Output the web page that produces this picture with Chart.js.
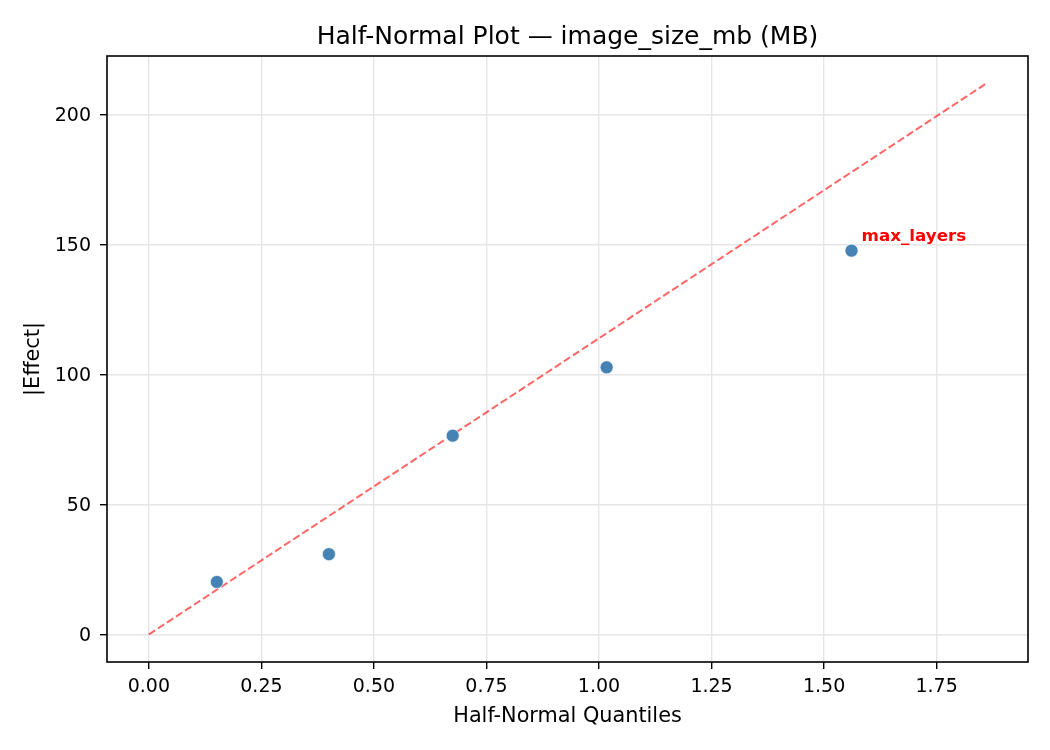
<!DOCTYPE html>
<html>
<head>
<meta charset="utf-8">
<title>Half-Normal Plot</title>
<script src="https://cdn.jsdelivr.net/npm/chart.js@4.4.1/dist/chart.umd.min.js"></script>
<style>
    html, body { margin: 0; padding: 0; background: #fff; }
    #wrap { width: 1050px; height: 750px; position: relative; }
</style>
</head>
<body>
<div id="wrap"><canvas id="halfNormalChart"></canvas></div>
<script>
// values
const quantiles = [0.151, 0.400, 0.675, 1.017, 1.561];
const effects = [20.2, 30.9, 76.5, 102.8, 147.7];
const pointLabels = ['', '', '', '', 'max_layers'];
const refLineX = [0, 1.86];
const refLineY = [0, 212];
const chartTitle = 'Half-Normal Plot \u2014 image_size_mb (MB)';

const FONT = "'DejaVu Sans', 'Liberation Sans', sans-serif";

// black frame round the plot area, like matplotlib spines
const framePlugin = {
    id: 'frame',
    afterDraw(chart) {
        const { ctx, chartArea: a } = chart;
        ctx.save();
        ctx.strokeStyle = '#000';
        ctx.lineWidth = 1.6;
        ctx.strokeRect(a.left, a.top, a.right - a.left, a.bottom - a.top);
        ctx.restore();
    }
};

// title centred over the plot area (not the whole canvas)
const axesTitlePlugin = {
    id: 'axesTitle',
    afterDraw(chart) {
        const { ctx, chartArea: a } = chart;
        ctx.save();
        ctx.font = "25px " + FONT;
        ctx.fillStyle = '#000';
        ctx.textAlign = 'center';
        ctx.textBaseline = 'alphabetic';
        ctx.fillText(chartTitle, (a.left + a.right) / 2, 44);
        ctx.restore();
    }
};

// text labels next to the named points
const pointLabelPlugin = {
    id: 'pointLabels',
    afterDatasetsDraw(chart) {
        const { ctx } = chart;
        const xs = chart.scales.x, ys = chart.scales.y;
        ctx.save();
        ctx.font = "bold 16.7px " + FONT;
        ctx.fillStyle = '#ff0000';
        ctx.textAlign = 'left';
        ctx.textBaseline = 'alphabetic';
        pointLabels.forEach((lbl, i) => {
            if (!lbl) return;
            const px = xs.getPixelForValue(quantiles[i]);
            const py = ys.getPixelForValue(effects[i]);
            ctx.fillText(lbl, px + 10, py - 10);
        });
        ctx.restore();
    }
};

const scatterData = quantiles.map((q, i) => ({ x: q, y: effects[i] }));
const lineData = refLineX.map((x, i) => ({ x: x, y: refLineY[i] }));

const ctx = document.getElementById('halfNormalChart').getContext('2d');
new Chart(ctx, {
    type: 'scatter',
    data: {
        datasets: [
            {
                label: 'effects',
                data: scatterData,
                pointRadius: 6.5,
                pointHoverRadius: 6.5,
                pointBackgroundColor: '#4682b4',
                pointBorderColor: '#ffffff',
                pointBorderWidth: 0.6
            },
            {
                type: 'line',
                label: 'reference',
                data: lineData,
                borderColor: 'rgba(255,0,0,0.6)',
                borderWidth: 2,
                borderDash: [7.5, 3.3],
                pointRadius: 0,
                fill: false,
                tension: 0
            }
        ]
    },
    options: {
        responsive: true,
        maintainAspectRatio: false,
        animation: false,
        layout: { padding: { left: 0, right: 22, top: 56, bottom: 0 } },
        plugins: {
            legend: { display: false },
            tooltip: { enabled: false },
            title: { display: false }
        },
        scales: {
            x: {
                type: 'linear',
                min: -0.093,
                max: 1.953,
                afterFit(scale) { scale.height = 88; },
                ticks: {
                    stepSize: 0.25,
                    includeBounds: false,
                    color: '#000',
                    padding: 7,
                    font: { family: FONT, size: 19 },
                    callback: v => Number(v).toFixed(2)
                },
                grid: {
                    color: '#e6e6e6',
                    lineWidth: 1.4,
                    tickLength: 7,
                    tickColor: '#000',
                    tickWidth: 1.4
                },
                border: { display: false },
                title: {
                    display: true,
                    text: 'Half-Normal Quantiles',
                    color: '#000',
                    font: { family: FONT, size: 20.8 },
                    padding: { top: 0, bottom: 20.5 }
                }
            },
            y: {
                type: 'linear',
                min: -10.6,
                max: 222.6,
                afterFit(scale) { scale.width = 107; },
                ticks: {
                    stepSize: 50,
                    includeBounds: false,
                    color: '#000',
                    padding: 9,
                    labelOffset: 1.5,
                    font: { family: FONT, size: 19 }
                },
                grid: {
                    color: '#e6e6e6',
                    lineWidth: 1.4,
                    tickLength: 7,
                    tickColor: '#000',
                    tickWidth: 1.4
                },
                border: { display: false },
                title: {
                    display: true,
                    text: '|Effect|',
                    color: '#000',
                    font: { family: FONT, size: 20.8 },
                    padding: { top: 21, bottom: 0 }
                }
            }
        }
    },
    plugins: [framePlugin, axesTitlePlugin, pointLabelPlugin]
});
</script>
</body>
</html>
